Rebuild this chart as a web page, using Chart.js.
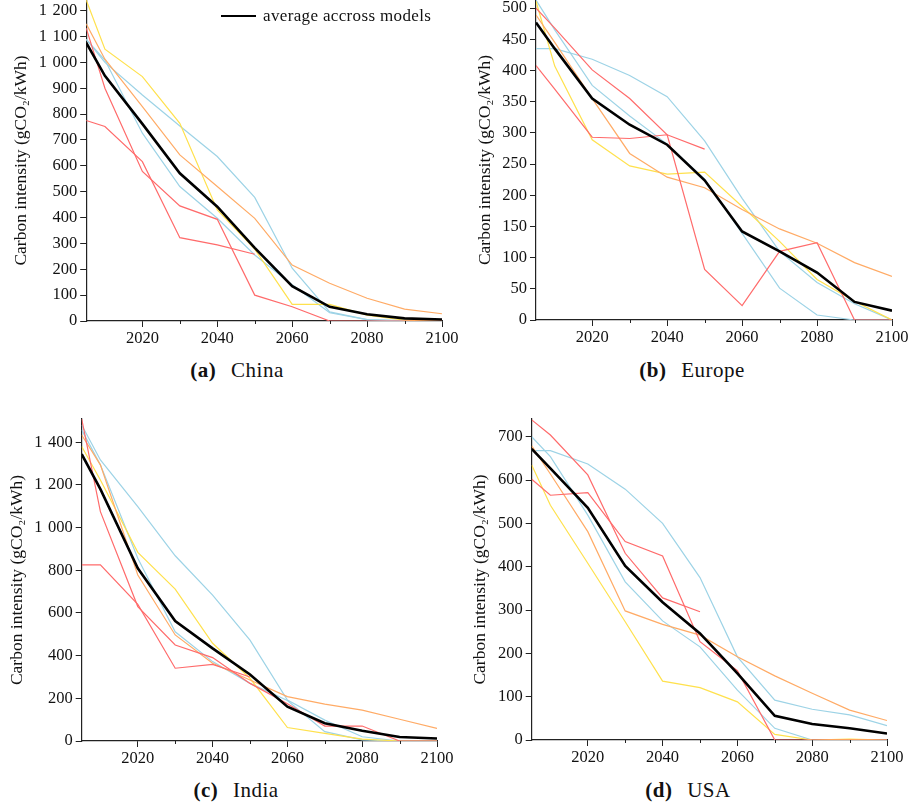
<!DOCTYPE html>
<html><head><meta charset="utf-8">
<script src="https://cdn.jsdelivr.net/npm/chart.js@4.4.0/dist/chart.umd.min.js"></script>
<style>
body{margin:0;width:909px;height:807px;overflow:hidden;background:#fff;position:relative;font-family:'Liberation Serif',serif;}
canvas{position:absolute;}
.cap{position:absolute;font-size:21px;letter-spacing:0.5px;transform:translate(-50%,-50%);white-space:nowrap;color:#111;}
.cap b{margin-right:9px;}
#legend{position:absolute;left:221px;top:6px;font-size:17px;letter-spacing:0.35px;display:flex;align-items:center;white-space:nowrap;color:#111;}
#legend .ln{display:inline-block;width:35px;height:2.5px;background:#000;margin-right:7px;}
</style></head><body>
<canvas id="cA"></canvas>
<canvas id="cB"></canvas>
<canvas id="cC"></canvas>
<canvas id="cD"></canvas>
<div id="legend"><span class="ln"></span><span id="legendText"></span></div>
<div class="cap" style="left:237px;top:370px"><b>(a)</b> China</div>
<div class="cap" style="left:692px;top:370px"><b>(b)</b> Europe</div>
<div class="cap" style="left:236px;top:790px"><b>(c)</b> India</div>
<div class="cap" style="left:688px;top:790px"><b>(d)</b> USA</div>
<script>
// ---------------- data ----------------
const years = [2005, 2010, 2020, 2030, 2040, 2050, 2060, 2070, 2080, 2090, 2100];
const avgLabel = 'average accross models';
const yTitle = 'Carbon intensity (gCO\u2082/kWh)';

const xMajorTicks = [2020, 2040, 2060, 2080, 2100];
const xMinorTicks = [2030, 2050, 2070, 2090];
const chinaYTicks = [0, 100, 200, 300, 400, 500, 600, 700, 800, 900, 1000, 1100, 1200];
const europeYTicks = [0, 50, 100, 150, 200, 250, 300, 350, 400, 450, 500];
const indiaYTicks = [0, 200, 400, 600, 800, 1000, 1200, 1400];
const usaYTicks = [0, 100, 200, 300, 400, 500, 600, 700];

// China
const chinaAverage = [1076, 948, 762, 571, 442, 283, 135, 55, 26, 10, 6];
const chinaRed1    = [1132, 900, 578, 445, 393, 100, 55, 0, 0, 0, 0];
const chinaRed2    = [775, 752, 616, 322, 294, 258, null, null, null, null, null];
const chinaOrange  = [1149, 1012, 829, 642, 520, 397, 216, 146, 88, 46, 28];
const chinaYellow  = [1241, 1051, 945, 764, 429, 278, 64, 64, 23, 3, 0];
const chinaCyan1   = [1089, 1009, 726, 520, 397, 255, 140, 32, 5, 2, 0];
const chinaCyan2   = [1089, 1000, 874, 754, 636, 478, 204, 35, 5, 0, 0];

// Europe
const europeAverage = [477, 435, 355, 313, 281, 224, 142, 110, 76, 29, 15];
const europeRed1    = [500, 468, 401, 355, 297, 81, 23, 110, 124, 0, 0];
const europeRed2    = [408, 370, 293, 291, 297, 274, null, null, null, null, null];
const europeOrange  = [489, 445, 355, 267, 229, 212, 177, 146, 123, 92, 70];
const europeYellow  = [511, 407, 289, 247, 234, 237, 182, 126, 65, 30, 0];
const europeCyan1   = [435, 435, 418, 392, 358, 287, 195, 110, 60, 26, 0];
const europeCyan2   = [513, 465, 376, 327, 282, 226, 139, 51, 8, 0, 0];

// India
const indiaAverage = [1344, 1180, 809, 562, 434, 312, 161, 83, 48, 19, 12];
const indiaRed1    = [1509, 1075, 630, 450, 391, 270, 175, 70, 70, 0, 0];
const indiaRed2    = [825, 825, 640, 341, 359, 300, null, null, null, null, null];
const indiaOrange  = [1434, 1294, 778, 497, 364, 286, 208, 173, 145, 102, 59];
const indiaYellow  = [1380, 1223, 884, 712, 458, 294, 63, 36, 9, 0, 0];
const indiaCyan1   = [1481, 1317, 1098, 868, 684, 473, 192, 98, 20, 0, 0];
const indiaCyan2   = [1458, 1294, 856, 512, 372, 270, 190, 44, 5, 0, 0];

// USA
const usaAverage = [672, 627, 536, 402, 318, 246, 154, 56, 37, 27, 15];
const usaRed1    = [739, 704, 612, 431, 328, 296, null, null, null, null, null];
const usaRed2    = [602, 565, 571, 458, 425, 227, 160, 0, 0, 0, 0];
const usaOrange  = [679, 614, 481, 298, 267, 242, 192, 148, 108, 69, 45];
const usaYellow  = [635, 542, 408, 273, 136, 121, 88, 13, 0, 2, 0];
const usaCyan1   = [668, 668, 637, 579, 500, 375, 192, 92, 71, 58, 33];
const usaCyan2   = [700, 654, 519, 365, 275, 215, 115, 27, 0, 0, 0];

// ---------------- styles / layout ----------------
const COLORS = {red: '#ff6b6b', orange: '#ffab66', yellow: '#ffe14d', cyan: '#9dd3e6'};
const FONT = "'Liberation Serif', 'DejaVu Serif', serif";
const TEXT = '#111';
const AXIS = '#222';

const panels = [
  {id: 'cA', canvasLeft: 0, area: {l: 86.2, t: 0, r: 441.7, b: 321}, yMax: 1241, yTicks: chinaYTicks, titleCenter: 21.5,
   avg: chinaAverage, models: [[chinaRed1, 'red'], [chinaRed2, 'red'], [chinaOrange, 'orange'], [chinaYellow, 'yellow'], [chinaCyan1, 'cyan'], [chinaCyan2, 'cyan']]},
  {id: 'cB', canvasLeft: 450, area: {l: 536, t: 0, r: 891.7, b: 320.3}, yMax: 513, yTicks: europeYTicks, titleCenter: 485,
   avg: europeAverage, models: [[europeRed1, 'red'], [europeRed2, 'red'], [europeOrange, 'orange'], [europeYellow, 'yellow'], [europeCyan1, 'cyan'], [europeCyan2, 'cyan']]},
  {id: 'cC', canvasLeft: 0, area: {l: 81.7, t: 419, r: 437.3, b: 741}, yMax: 1509, yTicks: indiaYTicks, titleCenter: 17.5,
   avg: indiaAverage, models: [[indiaRed1, 'red'], [indiaRed2, 'red'], [indiaOrange, 'orange'], [indiaYellow, 'yellow'], [indiaCyan1, 'cyan'], [indiaCyan2, 'cyan']]},
  {id: 'cD', canvasLeft: 446, area: {l: 531.7, t: 419, r: 887, b: 740}, yMax: 741, yTicks: usaYTicks, titleCenter: 480,
   avg: usaAverage, models: [[usaRed1, 'red'], [usaRed2, 'red'], [usaOrange, 'orange'], [usaYellow, 'yellow'], [usaCyan1, 'cyan'], [usaCyan2, 'cyan']]}
];

const TOP_PAD = 14, RIGHT_PAD = 30, XAXIS_H = 32;
const TITLE_SIZE = 17.5, TICK_SIZE = 16.5;

function fmtY(v) {
  if (v >= 1000) return Math.floor(v / 1000) + '\u2004' + String(v % 1000).padStart(3, '0');
  return String(v);
}

const minorTickPlugin = {
  id: 'minorTicks',
  afterDraw(chart) {
    const s = chart.scales.x, ctx = chart.ctx;
    ctx.save();
    ctx.strokeStyle = AXIS;
    ctx.lineWidth = 1;
    xMinorTicks.forEach(v => {
      const x = Math.round(s.getPixelForValue(v)) + 0.5;
      ctx.beginPath();
      ctx.moveTo(x, s.top);
      ctx.lineTo(x, s.top + 3);
      ctx.stroke();
    });
    ctx.restore();
  }
};

function series(values) {
  return years.map((x, i) => ({x: x, y: values[i]}));
}

panels.forEach(p => {
  const cv = document.getElementById(p.id);
  const w = Math.round(p.area.r - p.canvasLeft + RIGHT_PAD);
  const h = Math.round(p.area.b - p.area.t + TOP_PAD + XAXIS_H);
  cv.width = w; cv.height = h;
  cv.style.left = p.canvasLeft + 'px';
  cv.style.top = (p.area.t - TOP_PAD) + 'px';
  cv.style.width = w + 'px'; cv.style.height = h + 'px';
  const axisW = p.area.l - p.canvasLeft;
  const lineH = TITLE_SIZE * 1.2;
  const titlePad = (p.titleCenter - p.canvasLeft) - lineH / 2;

  const datasets = [{
    label: avgLabel, data: series(p.avg), borderColor: '#000', borderWidth: 2.6,
    pointRadius: 0, tension: 0, fill: false
  }];
  p.models.forEach(([vals, col]) => datasets.push({
    label: 'model', data: series(vals), borderColor: COLORS[col], borderWidth: 1.2,
    pointRadius: 0, tension: 0, fill: false, spanGaps: false
  }));

  new Chart(cv, {
    type: 'line',
    data: {datasets},
    plugins: [minorTickPlugin],
    options: {
      responsive: false, animation: false, devicePixelRatio: 1,
      layout: {padding: {top: TOP_PAD, right: RIGHT_PAD, left: 0, bottom: 0}},
      plugins: {legend: {display: false}, tooltip: {enabled: false}},
      scales: {
        x: {
          type: 'linear', min: 2005, max: 2100,
          afterBuildTicks: s => { s.ticks = xMajorTicks.map(v => ({value: v})); },
          afterFit: s => { s.height = XAXIS_H; },
          grid: {display: true, drawOnChartArea: false, drawTicks: true, tickLength: 6, tickColor: AXIS, color: AXIS},
          border: {display: true, color: AXIS, width: 1.2},
          ticks: {font: {family: FONT, size: TICK_SIZE}, color: TEXT, padding: 2, maxRotation: 0, autoSkip: false,
                  callback: v => String(v)}
        },
        y: {
          type: 'linear', min: 0, max: p.yMax,
          afterBuildTicks: s => { s.ticks = p.yTicks.map(v => ({value: v})); },
          afterFit: s => { s.width = axisW; },
          grid: {display: true, drawOnChartArea: false, drawTicks: true, tickLength: 6, tickColor: AXIS, color: AXIS},
          border: {display: true, color: AXIS, width: 1.2},
          ticks: {font: {family: FONT, size: TICK_SIZE}, color: TEXT, padding: 3, autoSkip: false, callback: v => fmtY(v)},
          title: {display: true, text: yTitle, font: {family: FONT, size: TITLE_SIZE}, color: TEXT,
                  padding: {top: titlePad, bottom: 0}}
        }
      }
    }
  });
});

document.getElementById('legendText').textContent = avgLabel;
</script>
</body></html>
